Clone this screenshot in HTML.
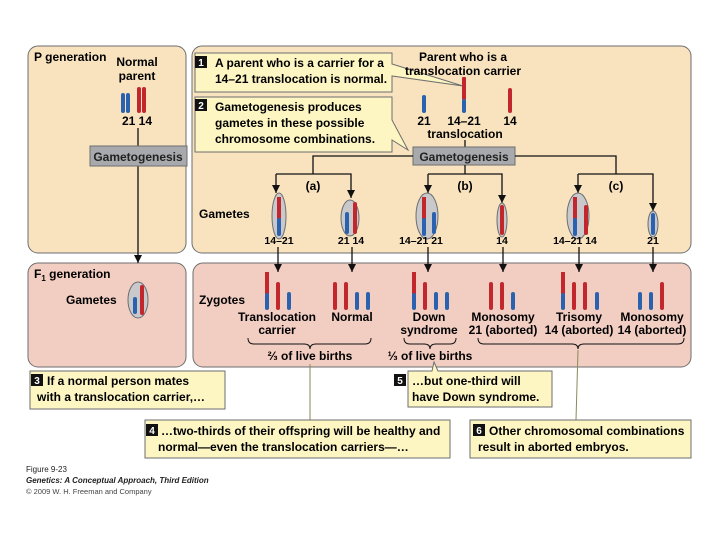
<!DOCTYPE html>
<html><head><meta charset="utf-8"><style>
body{margin:0;background:#fff;}
svg{display:block;font-family:"Liberation Sans",sans-serif;font-weight:bold;}
</style></head><body>
<svg width="720" height="540" viewBox="0 0 720 540" xmlns="http://www.w3.org/2000/svg">
<defs>
<marker id="ar" markerWidth="8" markerHeight="8" refX="8" refY="4" orient="auto" markerUnits="userSpaceOnUse"><path d="M0,0 L8,4 L0,8 Z" fill="#111"/></marker>
</defs>
<rect x="0" y="0" width="720" height="540" fill="#fff"/>
<rect x="28" y="46" width="158" height="207" rx="10" fill="#f9e3bf" stroke="#6d6e70" stroke-width="1"/>
<rect x="192" y="46" width="499" height="207" rx="10" fill="#f9e3bf" stroke="#6d6e70" stroke-width="1"/>
<rect x="28" y="263" width="158" height="104" rx="10" fill="#f2cdc2" stroke="#6d6e70" stroke-width="1"/>
<rect x="193" y="263" width="498" height="104" rx="10" fill="#f2cdc2" stroke="#6d6e70" stroke-width="1"/>

<text x="34" y="61" font-size="12">P generation</text>
<text x="137" y="66" font-size="12" text-anchor="middle">Normal</text>
<text x="137" y="80" font-size="12" text-anchor="middle">parent</text>
<g>
<rect x="121" y="93" width="4" height="20" rx="2" fill="#2b62b0"/>
<rect x="126" y="93" width="4" height="20" rx="2" fill="#2b62b0"/>
<rect x="137" y="87" width="4" height="26" rx="2" fill="#c1272d"/>
<rect x="142" y="87" width="4" height="26" rx="2" fill="#c1272d"/>
</g>
<text x="137" y="125" font-size="12" text-anchor="middle">21 14</text>
<line x1="138" y1="128" x2="138" y2="263" stroke="#111" stroke-width="1.3" marker-end="url(#ar)"/>
<rect x="90" y="146" width="97" height="20" fill="#a7a9ac" stroke="#6d6e70"/>
<text x="138" y="161" font-size="12" text-anchor="middle" fill="#222">Gametogenesis</text>

<path d="M195,53 H392 V64 L463,86 L392,76 V92 H195 Z" fill="#fdf6c3" stroke="#6d6e70"/>
<rect x="195" y="56" width="12" height="12" fill="#111"/><text x="201" y="66" font-size="10" fill="#fff" text-anchor="middle">1</text>
<text x="215" y="67" font-size="12">A parent who is a carrier for a</text>
<text x="215" y="83" font-size="12">14–21 translocation is normal.</text>
<path d="M195,97 H392 V120 L408,150 L392,140 V152 H195 Z" fill="#fdf6c3" stroke="#6d6e70"/>
<rect x="195" y="99" width="12" height="12" fill="#111"/><text x="201" y="109" font-size="10" fill="#fff" text-anchor="middle">2</text>
<text x="215" y="111" font-size="12">Gametogenesis produces</text>
<text x="215" y="127" font-size="12">gametes in these possible</text>
<text x="215" y="143" font-size="12">chromosome combinations.</text>

<text x="463" y="61" font-size="12" text-anchor="middle">Parent who is a</text>
<text x="463" y="75" font-size="12" text-anchor="middle">translocation carrier</text>
<rect x="422" y="95" width="4" height="18" rx="2" fill="#2b62b0"/>
<rect x="462" y="77" width="4" height="23" rx="1" fill="#c1272d"/>
<rect x="462" y="99" width="4" height="14" rx="2" fill="#2b62b0"/>
<rect x="508" y="88" width="4" height="25" rx="2" fill="#c1272d"/>
<text x="424" y="125" font-size="12" text-anchor="middle">21</text>
<text x="464" y="125" font-size="12" text-anchor="middle">14–21</text>
<text x="510" y="125" font-size="12" text-anchor="middle">14</text>
<text x="465" y="138" font-size="12" text-anchor="middle">translocation</text>
<line x1="465" y1="140" x2="465" y2="147" stroke="#111" stroke-width="1.3"/>
<rect x="413" y="147" width="102" height="18" fill="#a7a9ac" stroke="#6d6e70"/>
<text x="464" y="161" font-size="12" text-anchor="middle" fill="#222">Gametogenesis</text>
<g stroke="#111" stroke-width="1.3" fill="none">
<polyline points="413,156 313,156 313,174"/>
<polyline points="515,156 616,156 616,174"/>
<line x1="465" y1="165" x2="465" y2="174"/>
<polyline points="276,174 351,174 351,198" marker-end="url(#ar)"/>
<line x1="276" y1="174" x2="276" y2="193" marker-end="url(#ar)"/>
<polyline points="428,174 502,174 502,203" marker-end="url(#ar)"/>
<line x1="428" y1="174" x2="428" y2="193" marker-end="url(#ar)"/>
<polyline points="578,174 653,174 653,211" marker-end="url(#ar)"/>
<line x1="578" y1="174" x2="578" y2="193" marker-end="url(#ar)"/>
</g>
<text x="313" y="190" font-size="12" text-anchor="middle">(a)</text>
<text x="465" y="190" font-size="12" text-anchor="middle">(b)</text>
<text x="616" y="190" font-size="12" text-anchor="middle">(c)</text>
<text x="199" y="218" font-size="12">Gametes</text>
<g stroke="#6d6e70" fill="#c9c9cc">
<ellipse cx="279" cy="216" rx="7" ry="23"/>
<ellipse cx="350" cy="218" rx="9" ry="18"/>
<ellipse cx="427" cy="216" rx="11" ry="23"/>
<ellipse cx="502" cy="220" rx="5" ry="17"/>
<ellipse cx="578" cy="216" rx="11" ry="23"/>
<ellipse cx="653" cy="224" rx="5" ry="13"/>
</g>
<rect x="277" y="197" width="4" height="22" fill="#c1272d"/><rect x="277" y="218" width="4" height="18" rx="2" fill="#2b62b0"/>
<rect x="345" y="212" width="4" height="22" rx="2" fill="#2b62b0"/><rect x="353" y="202" width="4" height="32" rx="2" fill="#c1272d"/>
<rect x="422" y="197" width="4" height="22" fill="#c1272d"/><rect x="422" y="218" width="4" height="18" rx="2" fill="#2b62b0"/>
<rect x="432" y="212" width="4" height="22" rx="2" fill="#2b62b0"/>
<rect x="500" y="205" width="4" height="30" rx="2" fill="#c1272d"/>
<rect x="573" y="197" width="4" height="22" fill="#c1272d"/><rect x="573" y="218" width="4" height="18" rx="2" fill="#2b62b0"/>
<rect x="584" y="205" width="4" height="30" rx="2" fill="#c1272d"/>
<rect x="651" y="213" width="4" height="22" rx="2" fill="#2b62b0"/>
<g font-size="10.5" text-anchor="middle">
<text x="279" y="244">14–21</text>
<text x="351" y="244">21 14</text>
<text x="421" y="244">14–21 21</text>
<text x="502" y="244">14</text>
<text x="575" y="244">14–21 14</text>
<text x="653" y="244">21</text>
</g>
<g stroke="#111" stroke-width="1.3" marker-end="url(#ar)">
<line x1="278" y1="247" x2="278" y2="272"/>
<line x1="352" y1="247" x2="352" y2="272"/>
<line x1="428" y1="247" x2="428" y2="272"/>
<line x1="503" y1="247" x2="503" y2="272"/>
<line x1="579" y1="247" x2="579" y2="272"/>
<line x1="653" y1="247" x2="653" y2="272"/>
</g>

<text x="34" y="278" font-size="12">F<tspan font-size="8" dy="3">1</tspan><tspan dy="-3"> generation</tspan></text>
<text x="66" y="304" font-size="12">Gametes</text>
<ellipse cx="138" cy="300" rx="10" ry="18" fill="#c9c9cc" stroke="#6d6e70"/>
<rect x="133" y="297" width="4" height="17" rx="2" fill="#2b62b0"/>
<rect x="140" y="285" width="4" height="30" rx="2" fill="#c1272d"/>

<text x="199" y="304" font-size="12">Zygotes</text>
<g>
<rect x="265" y="272" width="4" height="22" fill="#c1272d"/><rect x="265" y="293" width="4" height="17" rx="2" fill="#2b62b0"/>
<rect x="276" y="282" width="4" height="28" rx="2" fill="#c1272d"/>
<rect x="287" y="292" width="4" height="18" rx="2" fill="#2b62b0"/>
<rect x="333" y="282" width="4" height="28" rx="2" fill="#c1272d"/>
<rect x="344" y="282" width="4" height="28" rx="2" fill="#c1272d"/>
<rect x="355" y="292" width="4" height="18" rx="2" fill="#2b62b0"/>
<rect x="366" y="292" width="4" height="18" rx="2" fill="#2b62b0"/>
<rect x="412" y="272" width="4" height="22" fill="#c1272d"/><rect x="412" y="293" width="4" height="17" rx="2" fill="#2b62b0"/>
<rect x="423" y="282" width="4" height="28" rx="2" fill="#c1272d"/>
<rect x="434" y="292" width="4" height="18" rx="2" fill="#2b62b0"/>
<rect x="445" y="292" width="4" height="18" rx="2" fill="#2b62b0"/>
<rect x="489" y="282" width="4" height="28" rx="2" fill="#c1272d"/>
<rect x="500" y="282" width="4" height="28" rx="2" fill="#c1272d"/>
<rect x="511" y="292" width="4" height="18" rx="2" fill="#2b62b0"/>
<rect x="561" y="272" width="4" height="22" fill="#c1272d"/><rect x="561" y="293" width="4" height="17" rx="2" fill="#2b62b0"/>
<rect x="572" y="282" width="4" height="28" rx="2" fill="#c1272d"/>
<rect x="583" y="282" width="4" height="28" rx="2" fill="#c1272d"/>
<rect x="595" y="292" width="4" height="18" rx="2" fill="#2b62b0"/>
<rect x="638" y="292" width="4" height="18" rx="2" fill="#2b62b0"/>
<rect x="649" y="292" width="4" height="18" rx="2" fill="#2b62b0"/>
<rect x="660" y="282" width="4" height="28" rx="2" fill="#c1272d"/>
</g>
<g font-size="12" text-anchor="middle">
<text x="277" y="321">Translocation</text><text x="277" y="334">carrier</text>
<text x="352" y="321">Normal</text>
<text x="429" y="321">Down</text><text x="429" y="334">syndrome</text>
<text x="503" y="321">Monosomy</text><text x="503" y="334">21 (aborted)</text>
<text x="579" y="321">Trisomy</text><text x="579" y="334">14 (aborted)</text>
<text x="652" y="321">Monosomy</text><text x="652" y="334">14 (aborted)</text>
</g>
<g stroke="#111" stroke-width="1" fill="none">
<path d="M248,338 Q248,344 254,344 H304 Q310,344 310,349 Q310,344 316,344 H365 Q371,344 371,338"/>
<path d="M404,338 Q404,344 410,344 H424 Q430,344 430,349 Q430,344 436,344 H450 Q456,344 456,338"/>
<path d="M478,338 Q478,344 484,344 H572 Q578,344 578,349 Q578,344 584,344 H678 Q684,344 684,338"/>
</g>
<text x="310" y="360" font-size="12" text-anchor="middle">⅔ of live births</text>
<text x="430" y="360" font-size="12" text-anchor="middle">⅓ of live births</text>

<rect x="30" y="371" width="195" height="38" fill="#fdf6c3" stroke="#6d6e70"/>
<rect x="31" y="374" width="12" height="12" fill="#111"/><text x="37" y="384" font-size="10" fill="#fff" text-anchor="middle">3</text>
<text x="47" y="385" font-size="12">If a normal person mates</text>
<text x="37" y="401" font-size="12">with a translocation carrier,…</text>

<path d="M408,371 H432 L434,362 L438,371 H552 V407 H408 Z" fill="#fdf6c3" stroke="#6d6e70"/>
<rect x="394" y="374" width="12" height="12" fill="#111"/><text x="400" y="384" font-size="10" fill="#fff" text-anchor="middle">5</text>
<text x="412" y="385" font-size="12">…but one-third will</text>
<text x="412" y="401" font-size="12">have Down syndrome.</text>

<line x1="310" y1="364" x2="310" y2="420" stroke="#8a8a5a" stroke-width="1"/>
<rect x="145" y="420" width="305" height="38" fill="#fdf6c3" stroke="#6d6e70"/>
<rect x="146" y="424" width="12" height="12" fill="#111"/><text x="152" y="434" font-size="10" fill="#fff" text-anchor="middle">4</text>
<text x="161" y="435" font-size="12">…two-thirds of their offspring will be healthy and</text>
<text x="158" y="451" font-size="12">normal—even the translocation carriers—…</text>

<line x1="578" y1="350" x2="576" y2="420" stroke="#8a8a5a" stroke-width="1"/>
<rect x="470" y="420" width="221" height="38" fill="#fdf6c3" stroke="#6d6e70"/>
<rect x="473" y="424" width="12" height="12" fill="#111"/><text x="479" y="434" font-size="10" fill="#fff" text-anchor="middle">6</text>
<text x="489" y="435" font-size="12">Other chromosomal combinations</text>
<text x="478" y="451" font-size="12">result in aborted embryos.</text>

<text x="26" y="472" font-size="8" font-weight="normal" fill="#222">Figure 9-23</text>
<text x="26" y="483" font-size="8" font-style="italic" fill="#222">Genetics: A Conceptual Approach, Third Edition</text>
<text x="26" y="494" font-size="7.5" font-weight="normal" fill="#444">© 2009 W. H. Freeman and Company</text>
</svg>
</body></html>
